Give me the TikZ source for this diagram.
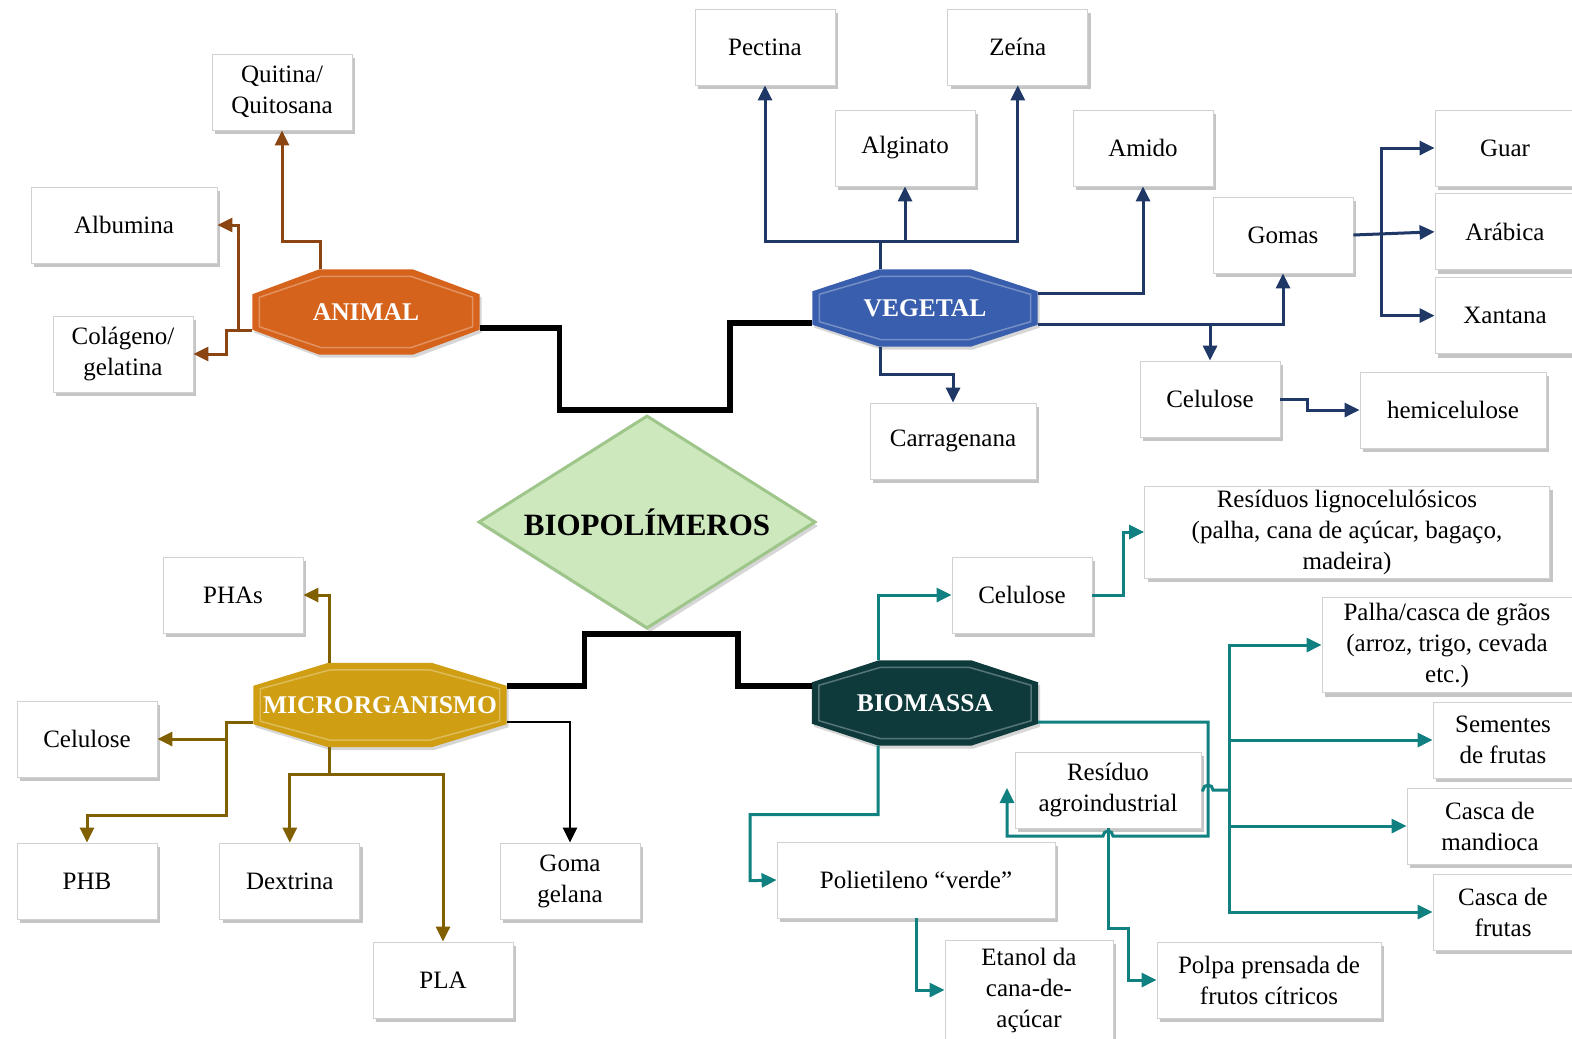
\documentclass[tikz,border=0pt]{standalone}
\usepackage{fontspec}
\setmainfont{Liberation Serif}
\usepackage{tikz}
\usetikzlibrary{shapes.geometric, arrows.meta, positioning, calc, shadows, backgrounds}

\definecolor{animalfill}{RGB}{214,99,28}
\definecolor{vegetalfill}{RGB}{58,94,174}
\definecolor{microfill}{RGB}{207,158,18}
\definecolor{biomassfill}{RGB}{14,58,60}
\definecolor{biofill}{RGB}{206,232,190}
\definecolor{bioedge}{RGB}{158,198,138}
\definecolor{animalline}{RGB}{139,69,19}
\definecolor{vegetalline}{RGB}{31,56,102}
\definecolor{microline}{RGB}{128,96,0}
\definecolor{biomassline}{RGB}{16,128,128}

\tikzstyle{item} = [rectangle, minimum width=140pt, minimum height=76pt, inner sep=2pt, align=center, draw=black!18, line width=0.8pt, fill=white, drop shadow={shadow xshift=3pt, shadow yshift=-4pt, fill=black!45, opacity=0.5}, font=\fontsize{25}{31}\selectfont]
\tikzstyle{source} = [rectangle, minimum height=85pt, inner sep=0pt, text=white, font=\fontsize{25.5}{30}\selectfont\bfseries]
\tikzstyle{core} = [diamond, aspect=1.58, minimum width=337pt, minimum height=213pt, inner sep=0pt, fill=biofill, draw=bioedge, line width=3pt, drop shadow={shadow xshift=3pt, shadow yshift=-4pt, fill=black!40, opacity=0.4}, font=\fontsize{31}{36}\selectfont\bfseries]
\tikzstyle{trunk} = [line width=5.5pt, black]
\tikzstyle{branch} = [line width=3pt]
\tikzstyle{arrow} = [line width=3pt, -{Triangle[length=15pt, width=14pt]}]

% octagon behind a source node: node, colour, chamfer x, chamfer y
\newcommand{\octshape}[4]{%
  \fill[#2, drop shadow={shadow xshift=2pt, shadow yshift=-3pt, fill=black!40, opacity=0.4}]
    ($(#1.north west)+(#3,0pt)$) -- ($(#1.north east)+(-#3,0pt)$)
    -- ($(#1.north east)+(0pt,-#4)$) -- ($(#1.south east)+(0pt,#4)$)
    -- ($(#1.south east)+(-#3,0pt)$) -- ($(#1.south west)+(#3,0pt)$)
    -- ($(#1.south west)+(0pt,#4)$) -- ($(#1.north west)+(0pt,-#4)$) -- cycle;
  \draw[white, opacity=0.3, line width=1.5pt]
    ($(#1.north west)+(#3+2pt,-7pt)$) -- ($(#1.north east)+(-#3-2pt,-7pt)$)
    -- ($(#1.north east)+(-7pt,-#4-3pt)$) -- ($(#1.south east)+(-7pt,#4+3pt)$)
    -- ($(#1.south east)+(-#3-2pt,7pt)$) -- ($(#1.south west)+(#3+2pt,7pt)$)
    -- ($(#1.south west)+(7pt,#4+3pt)$) -- ($(#1.north west)+(7pt,-#4-3pt)$) -- cycle;
}

\begin{document}
\begin{tikzpicture}[x=1pt, y=-1pt, node distance=7pt]
\useasboundingbox (0,0) rectangle (1572,1039);

% Sources
\node (bio) [core] at (647,522) {BIOPOLÍMEROS};
\node (animal) [source, minimum width=227pt] at (366,312) {ANIMAL};
\node (vegetal) [source, minimum width=225pt, minimum height=77pt] at (925,308) {VEGETAL};
\node (micro) [source, minimum width=253pt, minimum height=84pt] at (380,705) {MICRORGANISMO};
\node (biomassa) [source, minimum width=226pt] at (925,703) {BIOMASSA};

% Animal
\node (quitina) [item] at (282,92) {Quitina/\\Quitosana};
\node (albumina) [item, minimum width=186pt] at (124,225) {Albumina};
\node (colageno) [item] at (123,354) {Colágeno/\\gelatina};

% Vegetal
\node (pectina) [item] at (765,47) {Pectina};
\node (zeina) [item, right=112pt of pectina] {Zeína};
\node (alginato) [item] at (905,148) {Alginato};
\node (amido) [item] at (1143,148) {Amido};
\node (gomas) [item] at (1283,235) {Gomas};
\node (guar) [item] at (1505,148) {Guar};
\node (arabica) [item, below=of guar] {Arábica};
\node (xantana) [item, below=of arabica] {Xantana};
\node (carragenana) [item, minimum width=166pt] at (953,441) {Carragenana};
\node (celulosev) [item] at (1210,399) {Celulose};
\node (hemicelulose) [item, minimum width=186pt] at (1453,410) {hemicelulose};

% Microrganismo
\node (phas) [item] at (233,595) {PHAs};
\node (celulosem) [item] at (87,739) {Celulose};
\node (phb) [item] at (87,881) {PHB};
\node (dextrina) [item, right=62pt of phb] {Dextrina};
\node (pla) [item] at (443,980) {PLA};
\node (goma) [item] at (570,881) {Goma\\gelana};

% Biomassa
\node (celuloseb) [item] at (1022,595) {Celulose};
\node (residuos) [item, minimum width=405pt, minimum height=92pt] at (1347,532) {Resíduos lignocelulósicos\\(palha, cana de açúcar, bagaço,\\madeira)};
\node (palha) [item, minimum width=250pt, minimum height=95pt] at (1447,645) {Palha/casca de grãos\\(arroz, trigo, cevada\\etc.)};
\node (sementes) [item] at (1503,740) {Sementes\\de frutas};
\node (mandioca) [item, minimum width=166pt] at (1490,826) {Casca de\\mandioca};
\node (cascafrutas) [item] at (1503,912) {Casca de\\frutas};
\node (residuo) [item, minimum width=186pt] at (1108,790) {Resíduo\\agroindustrial};
\node (polietileno) [item, minimum width=278pt] at (916,880) {Polietileno “verde”};
\node (etanol) [item, minimum width=168pt, minimum height=100pt] at (1029,990) {Etanol da\\cana-de-\\açúcar};
\node (polpa) [item, minimum width=224pt] at (1269,980) {Polpa prensada de\\frutos cítricos};

% Links to the centre
\draw [trunk] ([yshift=-16pt]animal.east) -- ++(80,0) |- (730,410) |- ([yshift=-15pt]vegetal.west);
\draw [trunk] ([yshift=19pt]micro.east) -- ++(78,0) |- (738,634) |- ([yshift=17pt]biomassa.west);

% Animal links
\draw [arrow, animalline] ([xshift=-46pt]animal.north) -- ++(0,-28) -| (quitina.south);
\draw [arrow, animalline] ([yshift=-18pt]animal.west) -- ++(-14,0) |- (albumina.east);
\draw [arrow, animalline] ([yshift=-18pt]animal.west) -- ++(-26,0) |- (colageno.east);

% Vegetal links
\coordinate (vbus) at (880,241);
\coordinate (vgom) at ([yshift=-16pt]vegetal.east);
\coordinate (gtrunk) at (1381,234);
\draw [branch, vegetalline] ([xshift=-45pt]vegetal.north) -- (vbus);
\draw [arrow, vegetalline] (vbus) -| (pectina.south);
\draw [arrow, vegetalline] (vbus) -| (zeina.south);
\draw [arrow, vegetalline] (alginato.south |- vbus) -- (alginato.south);
\draw [arrow, vegetalline] ([yshift=15pt]vegetal.east) -| (amido.south);
\draw [arrow, vegetalline] (vgom) -| (gomas.south);
\draw [arrow, vegetalline] (vgom -| celulosev.north) -- (celulosev.north);
\draw [arrow, vegetalline] ([xshift=-45pt]vegetal.south) -- ++(0,28) -| (carragenana.north);
\draw [arrow, vegetalline] (celulosev.east) -- ++(27,0) |- (hemicelulose.west);
\draw [arrow, vegetalline] (gomas.east) -- (arabica.west);
\draw [arrow, vegetalline] (gtrunk) |- (guar.west);
\draw [arrow, vegetalline] (gtrunk) |- (xantana.west);

% Microrganismo links
\coordinate (mleft) at ([yshift=-17pt]micro.west);
\coordinate (mjoin) at (226,815);
\coordinate (mdown) at (329,774);
\draw [arrow, microline] ([xshift=-51pt]micro.north) |- (phas.east);
\draw [arrow, microline] (mleft) -| (mjoin) -| (phb.north);
\draw [arrow, microline] (mjoin |- celulosem.east) -- (celulosem.east);
\draw [branch, microline] ([xshift=-51pt]micro.south) -- (mdown);
\draw [arrow, microline] (mdown) -| (dextrina.north);
\draw [arrow, microline] (mdown) -| (pla.north);
\draw [arrow, black, line width=2.4pt] ([yshift=-17pt]micro.east) -| (goma.north);

% Biomassa links
\coordinate (btrunk) at (1229,790);
\draw [arrow, biomassline] ([xshift=-47pt]biomassa.north) |- (celuloseb.west);
\draw [arrow, biomassline] (celuloseb.east) -- ++(31,0) |- (residuos.west);
\draw [arrow, biomassline] ([xshift=-47pt]biomassa.south) -- ++(0,69) -| ++(-128,66) -- (polietileno.west);
\draw [arrow, biomassline] (polietileno.south) |- (etanol.west);
\draw [arrow, biomassline] ([yshift=-19pt]biomassa.east) -- (1208,722) -- (1208,836) -- (1113,836) arc[start angle=0, end angle=180, radius=5pt] -- (1007,836) -- (1007,788);
\draw [branch, biomassline] (residuo.east) -- (1203,790) arc[start angle=180, end angle=0, radius=5pt] -- (btrunk);
\draw [arrow, biomassline] (btrunk) |- (palha.west);
\draw [arrow, biomassline] (btrunk) |- (sementes.west);
\draw [arrow, biomassline] (btrunk) |- (mandioca.west);
\draw [arrow, biomassline] (btrunk) |- (cascafrutas.west);
\draw [arrow, biomassline] (residuo.south) |- (1128,928) |- (polpa.west);

\begin{scope}[on background layer]
\fill[white] (0,0) rectangle (1572,1039);
\octshape{animal}{animalfill}{67pt}{25pt}
\octshape{vegetal}{vegetalfill}{67pt}{22pt}
\octshape{micro}{microfill}{75pt}{23pt}
\octshape{biomassa}{biomassfill}{67pt}{22pt}
\end{scope}

\end{tikzpicture}
\end{document}
